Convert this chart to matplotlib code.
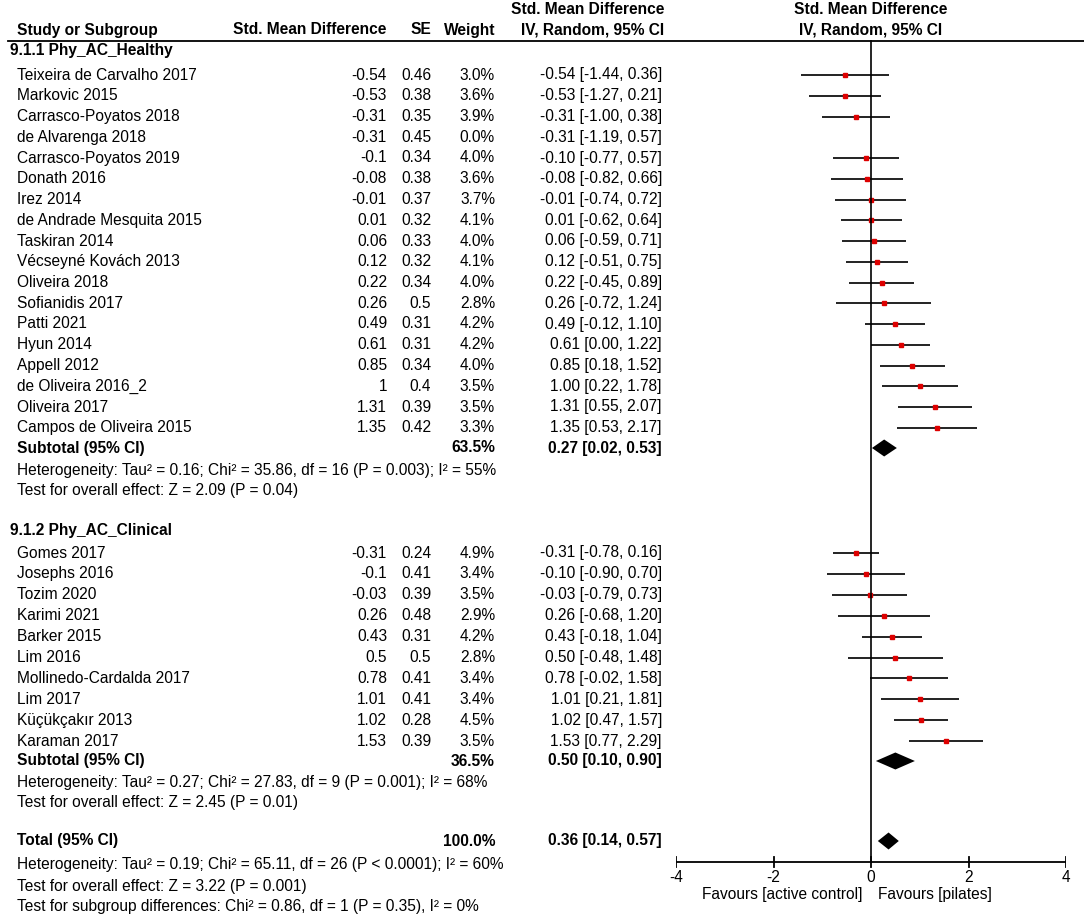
import matplotlib
matplotlib.use("Agg")
import matplotlib.pyplot as plt

# ------------------------------------
# Data: subgroup 9.1.1 Phy_AC_Healthy
# ------------------------------------
studies_h = ["Teixeira de Carvalho 2017", "Markovic 2015", "Carrasco-Poyatos 2018",
             "de Alvarenga 2018", "Carrasco-Poyatos 2019", "Donath 2016", "Irez 2014",
             "de Andrade Mesquita 2015", "Taskiran 2014", "Vécseyné Kovách 2013",
             "Oliveira 2018", "Sofianidis 2017", "Patti 2021", "Hyun 2014", "Appell 2012",
             "de Oliveira 2016_2", "Oliveira 2017", "Campos de Oliveira 2015"]
smd_h = [-0.54, -0.53, -0.31, -0.31, -0.1, -0.08, -0.01, 0.01, 0.06, 0.12,
         0.22, 0.26, 0.49, 0.61, 0.85, 1, 1.31, 1.35]
se_h = [0.46, 0.38, 0.35, 0.45, 0.34, 0.38, 0.37, 0.32, 0.33, 0.32,
        0.34, 0.5, 0.31, 0.31, 0.34, 0.4, 0.39, 0.42]
wt_h = [3.0, 3.6, 3.9, 0.0, 4.0, 3.6, 3.7, 4.1, 4.0, 4.1,
        4.0, 2.8, 4.2, 4.2, 4.0, 3.5, 3.5, 3.3]
lo_h = [-1.44, -1.27, -1.00, -1.19, -0.77, -0.82, -0.74, -0.62, -0.59, -0.51,
        -0.45, -0.72, -0.12, 0.00, 0.18, 0.22, 0.55, 0.53]
hi_h = [0.36, 0.21, 0.38, 0.57, 0.57, 0.66, 0.72, 0.64, 0.71, 0.75,
        0.89, 1.24, 1.10, 1.22, 1.52, 1.78, 2.07, 2.17]

# ------------------------------------
# Data: subgroup 9.1.2 Phy_AC_Clinical
# ------------------------------------
studies_c = ["Gomes 2017", "Josephs 2016", "Tozim 2020", "Karimi 2021", "Barker 2015",
             "Lim 2016", "Mollinedo-Cardalda 2017", "Lim 2017", "Küçükçakır 2013",
             "Karaman 2017"]
smd_c = [-0.31, -0.1, -0.03, 0.26, 0.43, 0.5, 0.78, 1.01, 1.02, 1.53]
se_c = [0.24, 0.41, 0.39, 0.48, 0.31, 0.5, 0.41, 0.41, 0.28, 0.39]
wt_c = [4.9, 3.4, 3.5, 2.9, 4.2, 2.8, 3.4, 3.4, 4.5, 3.5]
lo_c = [-0.78, -0.90, -0.79, -0.68, -0.18, -0.48, -0.02, 0.21, 0.47, 0.77]
hi_c = [0.16, 0.70, 0.73, 1.20, 1.04, 1.48, 1.58, 1.81, 1.57, 2.29]

# pooled estimates: (weight, estimate, lower, upper)
sub_h = (63.5, 0.27, 0.02, 0.53)
sub_c = (36.5, 0.50, 0.10, 0.90)
total = (100.0, 0.36, 0.14, 0.57)

het_h = "Heterogeneity: Tau² = 0.16; Chi² = 35.86, df = 16 (P = 0.003); I² = 55%"
eff_h = "Test for overall effect: Z = 2.09 (P = 0.04)"
het_c = "Heterogeneity: Tau² = 0.27; Chi² = 27.83, df = 9 (P = 0.001); I² = 68%"
eff_c = "Test for overall effect: Z = 2.45 (P = 0.01)"
het_t = "Heterogeneity: Tau² = 0.19; Chi² = 65.11, df = 26 (P < 0.0001); I² = 60%"
eff_t = "Test for overall effect: Z = 3.22 (P = 0.001)"
sub_test = "Test for subgroup differences: Chi² = 0.86, df = 1 (P = 0.35), I² = 0%"

ticks = [-4, -2, 0, 2, 4]

# ------------------------------------
# Figure
# ------------------------------------
plt.rcParams["font.family"] = ["Liberation Sans", "DejaVu Sans"]
FS = 11.2

W, H = 1084, 918
fig = plt.figure(figsize=(W / 100, H / 100), dpi=100)

# text layer in pixel coordinates
tx = fig.add_axes([0, 0, 1, 1])
tx.set_xlim(0, W)
tx.set_ylim(H, 0)
tx.axis("off")

# forest layer: x in SMD units, y in pixel rows
fx = fig.add_axes([676 / W, 0, 390 / W, 1])
fx.set_xlim(-4, 4)
fx.set_ylim(H, 0)
fx.axis("off")


def t(x, y, s, ha="left", bold=False):
    tx.text(x, y, s, ha=ha, va="center", fontsize=FS,
            fontweight="bold" if bold else "normal", color="black")


# header
t(17, 30, "Study or Subgroup", bold=True)
t(386, 30, "Std. Mean Difference", ha="right", bold=True)
t(431, 30, "SE", ha="right", bold=True)
t(495, 30, "Weight", ha="right", bold=True)
t(664, 10, "Std. Mean Difference", ha="right", bold=True)
t(664, 30, "IV, Random, 95% CI", ha="right", bold=True)
t(871, 10, "Std. Mean Difference", ha="center", bold=True)
t(871, 30, "IV, Random, 95% CI", ha="center", bold=True)
tx.plot([8, W], [41, 41], color="black", lw=1.3)


def fmt(v):
    return f"{v:.2f}"


def draw_group(y0, step, names_, smd, se, wt, lo, hi):
    for i, name in enumerate(names_):
        y = y0 + i * step
        t(17, y, name)
        t(387, y, f"{smd[i]:g}", ha="right")
        t(431, y, f"{se[i]:g}", ha="right")
        t(495, y, f"{wt[i]:.1f}%", ha="right")
        t(662, y, f"{fmt(smd[i])} [{fmt(lo[i])}, {fmt(hi[i])}]", ha="right")
        if wt[i] > 0:
            fx.plot([lo[i], hi[i]], [y, y], color="#222222", lw=1.4, solid_capstyle="butt")
            fx.plot(smd[i], y, marker="s", color="#dd0000", ms=1.2 + wt[i] * 0.45,
                    mec="#dd0000", linestyle="none")


def diamond(y, est, lo, hi, half=8.5):
    fx.fill([lo, est, hi, est], [y, y - half, y, y + half], color="black", lw=0)


def summary(y, label, vals):
    w, est, lo, hi = vals
    t(17, y, label, bold=True)
    t(495, y, f"{w:.1f}%", ha="right", bold=True)
    t(662, y, f"{fmt(est)} [{fmt(lo)}, {fmt(hi)}]", ha="right", bold=True)
    diamond(y, est, lo, hi)


# subgroup 1
t(10, 51, "9.1.1 Phy_AC_Healthy", bold=True)
draw_group(75, 20.75, studies_h, smd_h, se_h, wt_h, lo_h, hi_h)
summary(448, "Subtotal (95% CI)", sub_h)
t(17, 470, het_h)
t(17, 491, eff_h)

# subgroup 2
t(10, 530, "9.1.2 Phy_AC_Clinical", bold=True)
draw_group(553, 20.9, studies_c, smd_c, se_c, wt_c, lo_c, hi_c)
summary(761, "Subtotal (95% CI)", sub_c)
t(17, 783, het_c)
t(17, 803, eff_c)

# overall
summary(841, "Total (95% CI)", total)
t(17, 864, het_t)
t(17, 886, eff_t)
t(17, 907, sub_test)

# zero line and axis
fx.plot([0, 0], [41, 862], color="black", lw=1.2)
fx.plot([ticks[0], ticks[-1]], [862, 862], color="black", lw=1.3)
for tk in ticks:
    fx.plot([tk, tk], [857, 867], color="black", lw=1.3)
    fx.text(tk, 877, f"{tk:g}", ha="center", va="center", fontsize=FS)
fx.text(-0.17, 894, "Favours [active control]", ha="right", va="center", fontsize=FS)
fx.text(0.15, 894, "Favours [pilates]", ha="left", va="center", fontsize=FS)

fig.savefig("out.png", dpi=100)
